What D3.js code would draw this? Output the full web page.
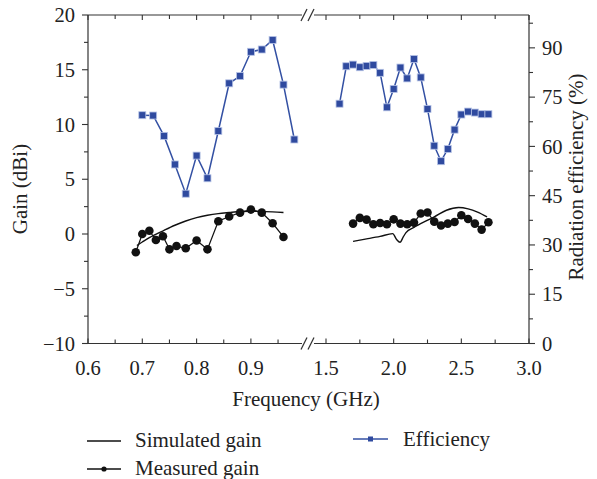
<!DOCTYPE html>
<html>
<head>
<meta charset="utf-8">
<script src="https://cdn.jsdelivr.net/npm/d3@7"></script>
<style>
  html, body { margin: 0; padding: 0; background: #fff; }
  svg { display: block; font-family: "Liberation Serif", "DejaVu Serif", serif; }
</style>
</head>
<body>
<svg id="chart" width="597" height="479"></svg>
<script>
// ---------- DATA ----------
const effFreqLeft = [0.70, 0.72, 0.74, 0.76, 0.78, 0.80, 0.82, 0.84, 0.86, 0.88, 0.90, 0.92, 0.94, 0.96, 0.98];
const effLeft = [69.5, 69.4, 63.2, 54.5, 45.6, 57.2, 50.3, 64.7, 79.2, 81.4, 88.8, 89.5, 92.4, 78.8, 62.1];

const effFreqRight = [1.60, 1.65, 1.70, 1.75, 1.80, 1.85, 1.90, 1.95, 2.00, 2.05, 2.10, 2.15, 2.20, 2.25, 2.30, 2.35, 2.40, 2.45, 2.50, 2.55, 2.60, 2.65, 2.70];
const effRight = [73.0, 84.4, 84.9, 84.1, 84.5, 84.8, 82.4, 71.9, 77.5, 84.0, 80.7, 86.6, 81.0, 71.4, 60.2, 55.5, 59.2, 65.1, 69.7, 70.6, 70.3, 69.8, 69.8];

const measFreqLeft = [0.688, 0.700, 0.713, 0.725, 0.738, 0.750, 0.763, 0.780, 0.800, 0.820, 0.840, 0.860, 0.880, 0.900, 0.920, 0.940, 0.960];
const measLeft = [-1.67, 0.0, 0.3, -0.55, -0.2, -1.4, -1.1, -1.3, -0.6, -1.4, 1.16, 1.6, 1.95, 2.23, 1.95, 0.98, -0.27];

const measFreqRight = [1.70, 1.75, 1.80, 1.85, 1.90, 1.95, 2.00, 2.05, 2.10, 2.15, 2.20, 2.25, 2.30, 2.35, 2.40, 2.45, 2.50, 2.55, 2.60, 2.65, 2.70];
const measRight = [0.95, 1.47, 1.31, 0.89, 1.0, 0.89, 1.34, 0.95, 0.89, 1.04, 1.87, 1.96, 1.13, 0.77, 0.95, 1.1, 1.71, 1.37, 0.95, 0.4, 1.07];

const simFreqLeft = [0.69, 0.70, 0.713, 0.74, 0.76, 0.78, 0.80, 0.82, 0.84, 0.86, 0.88, 0.90, 0.92, 0.94, 0.96];
const simLeft = [-1.05, -0.73, -0.33, 0.34, 0.8, 1.19, 1.5, 1.71, 1.86, 1.96, 2.05, 2.08, 2.05, 2.02, 1.96];

const simFreqRight = [1.70, 1.80, 1.90, 1.993, 2.022, 2.047, 2.071, 2.091, 2.15, 2.24, 2.30, 2.39, 2.48, 2.55, 2.62, 2.69];
const simRight = [-0.67, -0.45, -0.22, 0.03, -0.51, -0.76, -0.27, 0.13, 0.6, 1.19, 1.56, 2.17, 2.42, 2.3, 2.0, 1.56];

const xTicksLeft = [0.6, 0.7, 0.8, 0.9];
const xMinorLeft = [0.65, 0.75, 0.85, 0.95];
const xTicksRight = [1.5, 2.0, 2.5, 3.0];
const xMinorRight = [1.75, 2.25, 2.75];
const gainTicks = [-10, -5, 0, 5, 10, 15, 20];
const gainMinor = [-7.5, -2.5, 2.5, 7.5, 12.5, 17.5];
const effTicks = [0, 15, 30, 45, 60, 75, 90];
const effMinor = [7.5, 22.5, 37.5, 52.5, 67.5, 82.5, 97.5];

const legendItems = ["Simulated gain", "Measured gain", "Efficiency"];

// ---------- LAYOUT ----------
const L = 88, R = 529, T = 15, B = 343.5;
const breakX = 305;
const blue = "#3350a3";
const axisCol = "#333";
const fs = 20.5;
const fsT = 21;

const svg = d3.select("#chart");

const xL = d3.scaleLinear().domain([0.6, 1.0]).range([L, 305.2]);
const xR = d3.scaleLinear().domain([1.5, 3.0]).range([326, R]);
const yG = d3.scaleLinear().domain([-10, 20]).range([B, T]);
const yE = d3.scaleLinear().domain([0, 100]).range([B, T]);

const g = svg.append("g");

// axis frame lines (with break)
function hLine(y) {
  g.append("line").attr("x1", L).attr("x2", breakX - 3).attr("y1", y).attr("y2", y)
    .attr("stroke", axisCol).attr("stroke-width", 1.2);
  g.append("line").attr("x1", breakX + 9).attr("x2", R).attr("y1", y).attr("y2", y)
    .attr("stroke", axisCol).attr("stroke-width", 1.2);
  [breakX - 4, breakX + 3].forEach(x0 => {
    g.append("line").attr("x1", x0).attr("y1", y + 6).attr("x2", x0 + 6).attr("y2", y - 6)
      .attr("stroke", axisCol).attr("stroke-width", 1.2);
  });
}
hLine(T);
hLine(B);
g.append("line").attr("x1", L).attr("x2", L).attr("y1", T).attr("y2", B).attr("stroke", axisCol).attr("stroke-width", 1.2);
g.append("line").attr("x1", R).attr("x2", R).attr("y1", T).attr("y2", B).attr("stroke", axisCol).attr("stroke-width", 1.2);

// x ticks (top inward, bottom outward)
function xTick(x, len) {
  g.append("line").attr("x1", x).attr("x2", x).attr("y1", T).attr("y2", T + len).attr("stroke", axisCol).attr("stroke-width", 1.1);
  g.append("line").attr("x1", x).attr("x2", x).attr("y1", B).attr("y2", B - len).attr("stroke", axisCol).attr("stroke-width", 1.1);
}
xTicksLeft.forEach(v => xTick(xL(v), 5));
xMinorLeft.forEach(v => xTick(xL(v), 4));
xTicksRight.forEach(v => xTick(xR(v), 5));
xMinorRight.forEach(v => xTick(xR(v), 4));

const fmt = d3.format(".1f");
xTicksLeft.forEach(v => {
  g.append("text").attr("x", xL(v)).attr("y", 375).attr("text-anchor", "middle")
    .attr("font-size", fs).attr("fill", "#222").text(fmt(v));
});
xTicksRight.forEach(v => {
  g.append("text").attr("x", xR(v)).attr("y", 375).attr("text-anchor", "middle")
    .attr("font-size", fs).attr("fill", "#222").text(fmt(v));
});

// left y axis
gainTicks.forEach(v => {
  g.append("line").attr("x1", L - 6).attr("x2", L).attr("y1", yG(v)).attr("y2", yG(v)).attr("stroke", axisCol).attr("stroke-width", 1.1);
  g.append("text").attr("x", L - 13).attr("y", yG(v)).attr("dy", "0.35em").attr("text-anchor", "end")
    .attr("font-size", fs).attr("fill", "#222").text(v < 0 ? "\u2212" + Math.abs(v) : v);
});
gainMinor.forEach(v => {
  g.append("line").attr("x1", L - 4).attr("x2", L).attr("y1", yG(v)).attr("y2", yG(v)).attr("stroke", axisCol).attr("stroke-width", 1.1);
});

// right y axis
effTicks.forEach(v => {
  g.append("line").attr("x1", R).attr("x2", R + 6).attr("y1", yE(v)).attr("y2", yE(v)).attr("stroke", axisCol).attr("stroke-width", 1.1);
  g.append("text").attr("x", R + 13).attr("y", yE(v)).attr("dy", "0.35em").attr("text-anchor", "start")
    .attr("font-size", fs).attr("fill", "#222").text(v);
});
effMinor.forEach(v => {
  g.append("line").attr("x1", R).attr("x2", R + 4).attr("y1", yE(v)).attr("y2", yE(v)).attr("stroke", axisCol).attr("stroke-width", 1.1);
});

// axis titles
g.append("text").attr("transform", "translate(27,189) rotate(-90)").attr("text-anchor", "middle")
  .attr("font-size", fsT).attr("fill", "#222").text("Gain (dBi)");
g.append("text").attr("transform", "translate(583,177) rotate(-90)").attr("text-anchor", "middle")
  .attr("font-size", fsT).attr("fill", "#222").text("Radiation efficiency (%)");
g.append("text").attr("x", 306).attr("y", 406).attr("text-anchor", "middle")
  .attr("font-size", fsT).attr("fill", "#222").text("Frequency (GHz)");

// ---------- SERIES ----------
function zip(xs, ys) { return xs.map((x, i) => [x, ys[i]]); }

const simLine = (xs, ys) => d3.line().x(d => xs(d[0])).y(d => ys(d[1])).curve(d3.curveMonotoneX);
const linLine = (xs, ys) => d3.line().x(d => xs(d[0])).y(d => ys(d[1]));

// simulated
g.append("path").datum(zip(simFreqLeft, simLeft)).attr("d", simLine(xL, yG))
  .attr("fill", "none").attr("stroke", "#111").attr("stroke-width", 1.4);
g.append("path").datum(zip(simFreqRight, simRight)).attr("d", simLine(xR, yG))
  .attr("fill", "none").attr("stroke", "#111").attr("stroke-width", 1.4);

// measured
[[zip(measFreqLeft, measLeft), xL], [zip(measFreqRight, measRight), xR]].forEach(([data, xs]) => {
  g.append("path").datum(data).attr("d", linLine(xs, yG))
    .attr("fill", "none").attr("stroke", "#111").attr("stroke-width", 1.2);
  g.selectAll(null).data(data).enter().append("circle")
    .attr("cx", d => xs(d[0])).attr("cy", d => yG(d[1])).attr("r", 4.3).attr("fill", "#111");
});

// efficiency
[[zip(effFreqLeft, effLeft), xL], [zip(effFreqRight, effRight), xR]].forEach(([data, xs]) => {
  g.append("path").datum(data).attr("d", linLine(xs, yE))
    .attr("fill", "none").attr("stroke", blue).attr("stroke-width", 1.5);
  g.selectAll(null).data(data).enter().append("rect")
    .attr("x", d => xs(d[0]) - 3.5).attr("y", d => yE(d[1]) - 3.5)
    .attr("width", 7).attr("height", 7)
    .attr("fill", "#2f4a9f").attr("stroke", "#b6c3e6").attr("stroke-width", 0.8);
});

// ---------- LEGEND ----------
const lg = svg.append("g");
// Simulated
lg.append("line").attr("x1", 87).attr("x2", 121).attr("y1", 441).attr("y2", 441).attr("stroke", "#111").attr("stroke-width", 1.3);
lg.append("text").attr("x", 135).attr("y", 447).attr("font-size", fsT).attr("fill", "#222").text(legendItems[0]);
// Measured
lg.append("line").attr("x1", 87).attr("x2", 121).attr("y1", 469).attr("y2", 469).attr("stroke", "#111").attr("stroke-width", 1.3);
lg.append("circle").attr("cx", 104).attr("cy", 469).attr("r", 2.6).attr("fill", "#111");
lg.append("text").attr("x", 135).attr("y", 475).attr("font-size", fsT).attr("fill", "#222").text(legendItems[1]);
// Efficiency
lg.append("line").attr("x1", 353).attr("x2", 388).attr("y1", 439).attr("y2", 439).attr("stroke", blue).attr("stroke-width", 1.3);
lg.append("rect").attr("x", 368).attr("y", 436.5).attr("width", 5).attr("height", 5).attr("fill", "#2f4a9f");
lg.append("text").attr("x", 403).attr("y", 446).attr("font-size", fsT).attr("fill", "#222").text(legendItems[2]);
</script>
</body>
</html>
